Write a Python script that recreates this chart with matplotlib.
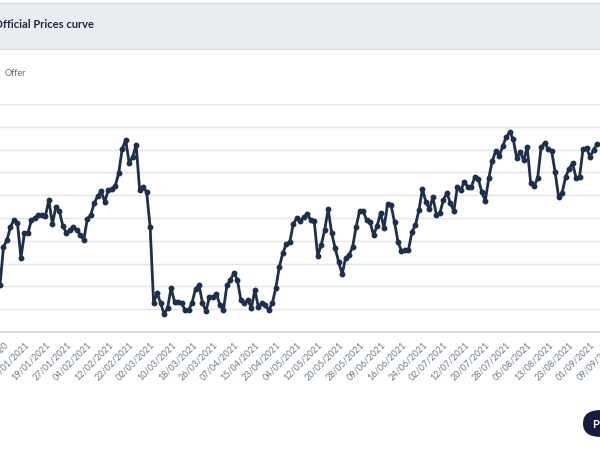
import numpy as np
import matplotlib
matplotlib.use('Agg')
import matplotlib.pyplot as plt
from matplotlib.patches import Rectangle, FancyBboxPatch

plt.rcParams['font.family'] = ['Lato', 'DejaVu Sans']

# Offer price curve (one value per trading day)
offer = [20.6, 37.3, 40.4, 46.1, 49.1, 47.8, 32.5, 43.4, 43.4, 49.1,
         50.0, 51.3, 51.3, 50.9, 57.9, 47.4, 54.8, 53.1, 46.5, 43.4,
         44.7, 46.1, 44.7, 42.5, 40.4, 49.6, 51.3, 56.6, 59.6, 61.8,
         57.0, 62.3, 62.7, 64.0, 69.7, 80.3, 84.2, 74.1, 76.8, 82.0,
         62.3, 63.6, 61.4, 46.1, 12.7, 17.1, 12.7, 7.9, 10.5, 19.3,
         13.2, 13.2, 12.7, 9.6, 9.6, 12.7, 18.9, 20.6, 12.7, 9.2,
         15.4, 15.4, 16.7, 11.8, 9.6, 20.6, 22.8, 25.9, 22.8, 14.0,
         12.7, 14.0, 10.5, 18.4, 11.0, 12.7, 11.8, 9.6, 12.7, 19.3,
         28.5, 34.6, 38.6, 39.5, 47.4, 50.0, 48.7, 50.4, 51.8, 49.1,
         48.7, 33.3, 38.2, 44.7, 53.9, 43.4, 36.8, 30.7, 25.4, 32.5,
         33.8, 37.3, 46.1, 53.1, 53.1, 49.1, 48.2, 42.5, 46.5, 52.2,
         45.6, 56.1, 55.7, 48.2, 39.5, 35.5, 36.0, 36.0, 43.9, 46.9,
         53.5, 62.7, 57.0, 53.9, 59.2, 51.3, 52.2, 57.9, 61.0, 56.6,
         53.1, 63.6, 62.3, 65.8, 63.6, 63.6, 68.0, 67.1, 61.4, 57.5,
         67.5, 75.0, 79.4, 77.2, 81.6, 85.5, 87.7, 84.6, 76.3, 78.9,
         75.4, 81.1, 65.4, 64.0, 67.5, 81.1, 82.9, 80.3, 79.4, 70.2,
         59.2, 61.0, 68.0, 71.5, 74.1, 67.5, 68.0, 80.3, 80.7, 76.8,
         79.8, 82.5]

# date labels, shown every 6th trading day
date_labels = ['31/12/2020', '11/01/2021', '19/01/2021', '27/01/2021', '04/02/2021',
               '12/02/2021', '22/02/2021', '02/03/2021', '10/03/2021', '18/03/2021',
               '26/03/2021', '07/04/2021', '15/04/2021', '23/04/2021', '04/05/2021',
               '12/05/2021', '20/05/2021', '28/05/2021', '09/06/2021', '16/06/2021',
               '24/06/2021', '02/07/2021', '12/07/2021', '20/07/2021', '28/07/2021',
               '05/08/2021', '13/08/2021', '23/08/2021', '01/09/2021', '09/09/2021']

W, H = 600, 450
fig = plt.figure(figsize=(6, 4.5), dpi=100)
fig.patch.set_facecolor('white')

def fx(px):
    return px / W

def fy(py):
    return 1 - py / H

# header band
fig.add_artist(Rectangle((0, fy(49)), 1, fy(3) - fy(49), transform=fig.transFigure,
                         facecolor='#e9edf1', edgecolor='none'))
fig.add_artist(plt.Line2D([0, 1], [fy(3), fy(3)], transform=fig.transFigure, color='#d3d9df', lw=0.8))
fig.add_artist(plt.Line2D([0, 1], [fy(49), fy(49)], transform=fig.transFigure, color='#d9dee4', lw=0.8))
fig.text(fx(-6), fy(25), 'Official Prices curve', fontsize=8, fontweight='bold',
         color='#1f2a3a', va='center', ha='left')
fig.text(fx(5), fy(74), 'Offer', fontsize=6.5, color='#5f6d80', va='center', ha='left')

# plot area (extends past both figure edges, like the cropped page)
x = np.arange(len(offer))
ppi = 597 / (len(offer) - 1)           # pixels per trading day
left_px, right_px = -30, 640
ax = fig.add_axes([fx(left_px), fy(332), fx(right_px - left_px), fy(104) - fy(332)])
ax.set_xlim(left_px / ppi, right_px / ppi)
ax.set_ylim(0, 100)

ax.plot(x, offer, color='#1c2f4d', lw=2, marker='o', ms=3.2, mfc='#1c2f4d', mec='#1c2f4d')

ax.set_yticks(np.arange(0, 101, 10))
ax.yaxis.grid(True, color='#e2e5e9', lw=1)
ax.set_axisbelow(True)
ax.tick_params(axis='y', left=False, labelleft=False)
for s in ['top', 'right', 'left']:
    ax.spines[s].set_visible(False)
ax.spines['bottom'].set_color('#d3d7dc')
ax.spines['bottom'].set_linewidth(1.2)

ticks = 1 + 6 * np.arange(len(date_labels))
ax.set_xticks(ticks)
ax.set_xticklabels(date_labels, rotation=45, ha='right', rotation_mode='anchor',
                   fontsize=6.5, color='#6b7990')
ax.tick_params(axis='x', length=0, pad=6)

# cropped button bottom right
fig.add_artist(FancyBboxPatch((fx(583), fy(437)), fx(60), fy(410) - fy(437),
                              boxstyle='round,pad=0,rounding_size=0.03',
                              transform=fig.transFigure, facecolor='#161b44', edgecolor='none'))
fig.text(fx(592), fy(424), 'P', fontsize=8, fontweight='bold', color='white', va='center', ha='left')

fig.savefig('out.png', dpi=100)
